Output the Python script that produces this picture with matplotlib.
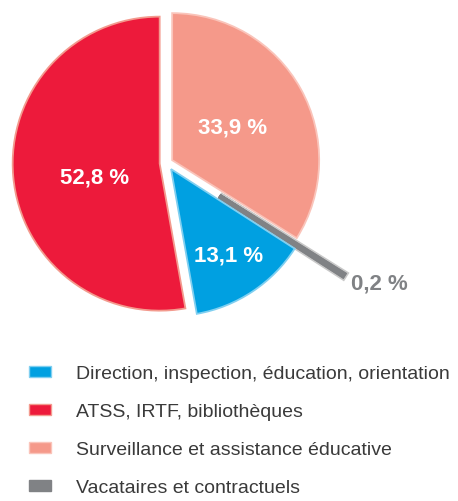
import matplotlib
matplotlib.use('Agg')
import matplotlib.pyplot as plt
import matplotlib.patheffects as pe
import numpy as np

labels = ['Direction, inspection, éducation, orientation',
          'ATSS, IRTF, bibliothèques',
          'Surveillance et assistance éducative',
          'Vacataires et contractuels']
values = [13.1, 52.8, 33.9, 0.2]
value_texts = ['13,1 %', '52,8 %', '33,9 %', '0,2 %']
colors = ['#00A0E1', '#ED1A3B', '#F5998A', '#808285']
edge_colors = ['#80CFF0', '#F39A8E', '#FAC4BA', '#808285']

# clockwise order of the slices from 12 o'clock
pie_order = [2, 3, 0, 1]
explode = [0.05, 0.05, 0.04, 0.42]
label_dist = [0.75, 0.5, 0.51, 1.66]
label_turn = [0, 6, 0, 3]  # degrees, small nudges of the % labels

plt.rcParams['font.family'] = ['Liberation Sans', 'DejaVu Sans']

W, H = 458, 502
fig = plt.figure(figsize=(W / 100, H / 100), dpi=100)
R = 147.0
cx, cy = 167.0, 164.0
top_h = 330.0
ax = fig.add_axes([0, 1 - top_h / H, 1, top_h / H])

wedges, _ = ax.pie([values[i] for i in pie_order],
                   colors=[colors[i] for i in pie_order],
                   explode=[explode[i] for i in pie_order],
                   startangle=90, counterclock=False,
                   wedgeprops=dict(linewidth=1.3))
for w, i in zip(wedges, pie_order):
    w.set_edgecolor(edge_colors[i])
    if values[i] < 1:
        # tiny slice: thicken it so it reads like the original
        w.set_linewidth(3.5)
        w.set_path_effects([pe.withStroke(linewidth=6, foreground='#C8C8C8'),
                            pe.Normal()])
ax.set_xlim(-cx / R, (W - cx) / R)
ax.set_ylim((cy - top_h) / R, cy / R)
ax.set_aspect('auto')

for w, i in zip(wedges, pie_order):
    mid = np.deg2rad((w.theta1 + w.theta2) / 2 + label_turn[i])
    d = label_dist[i]
    x, y = d * np.cos(mid), d * np.sin(mid)
    col = 'white' if values[i] >= 1 else colors[i]
    ax.text(x, y, value_texts[i], ha='center', va='center', color=col,
            fontsize=16, fontweight='bold')

handles = [wedges[pie_order.index(i)] for i in range(4)]
leg = fig.legend(handles, labels, loc='upper left',
                 bbox_to_anchor=(29 / W, 1 - 366 / H), frameon=False,
                 fontsize=14, handlelength=1.12, handleheight=0.5,
                 handletextpad=1.3, labelspacing=1.08, borderpad=0,
                 borderaxespad=0, labelcolor='#3A3A3A')
for h in leg.legend_handles:
    h.set_linewidth(1.0)
    h.set_path_effects([])

fig.savefig('out.png', dpi=100)
